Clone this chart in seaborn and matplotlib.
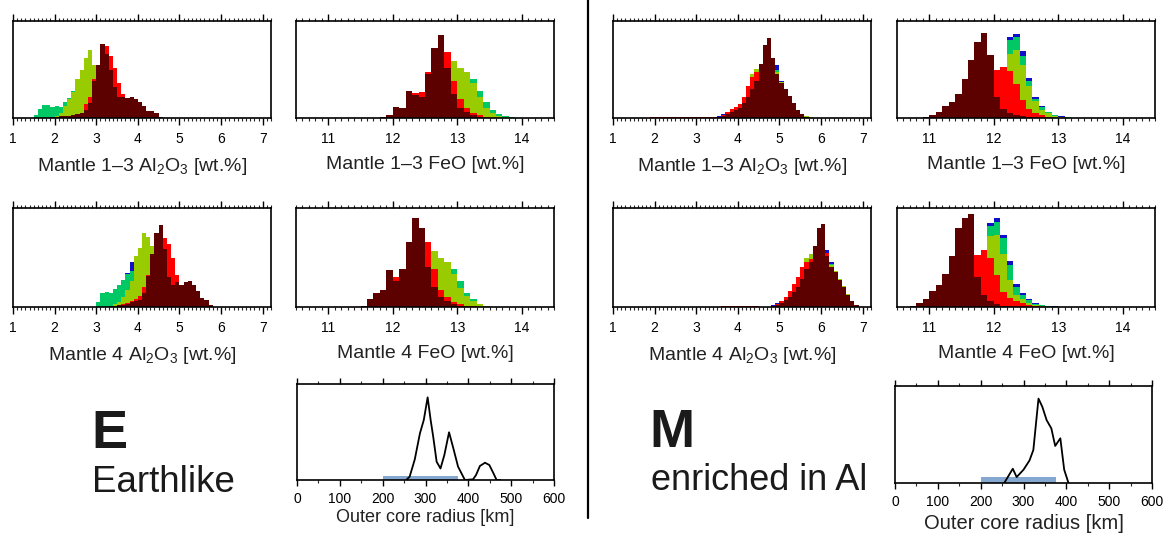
import numpy as np
import pandas as pd
import matplotlib
matplotlib.use("Agg")
import matplotlib.pyplot as plt
import seaborn as sns
from matplotlib.ticker import MultipleLocator
from matplotlib.lines import Line2D

sns.set_theme(style="white")
plt.rcParams['font.family'] = ['Liberation Sans', 'DejaVu Sans']
plt.rcParams['mathtext.fontset'] = 'custom'
plt.rcParams['mathtext.rm'] = 'Liberation Sans'
plt.rcParams['mathtext.it'] = 'Liberation Sans:italic'
plt.rcParams['mathtext.bf'] = 'Liberation Sans:bold'

# ---------------- data ----------------
BIN_W = 0.1
SERIES_ORDER = ["blue", "green", "yellowgreen", "red", "maroon"]
SERIES_COLORS = {"blue": "#1010c8", "green": "#00c864", "yellowgreen": "#99cc00",
                 "red": "#ff0000", "maroon": "#5c0000"}

AL_TICKS = [1, 2, 3, 4, 5, 6, 7]
FEO_TICKS = [11, 12, 13, 14]
CORE_TICKS = [0, 100, 200, 300, 400, 500, 600]

# E: Mantle 1-3 Al2O3 (bin centres start at 1.45)
E13_AL_START = 1.45
E13_AL_GREEN = [0, 0.03, 0.09, 0.13, 0.13, 0.11, 0.12, 0.11, 0.16, 0.21, 0.28, 0.35, 0.45, 0.55, 0.62, 0.45, 0.35,
                0.30, 0.25, 0.20, 0.15, 0.10, 0.08, 0.06, 0.05, 0.04, 0.03, 0.02, 0.01, 0, 0, 0, 0]
E13_AL_YG = [0, 0, 0, 0, 0, 0.01, 0.02, 0.05, 0.12, 0.20, 0.27, 0.40, 0.50, 0.62, 0.70, 0.55, 0.40, 0.35, 0.30,
             0.25, 0.20, 0.15, 0.10, 0.08, 0.06, 0.05, 0.04, 0.03, 0.02, 0.01, 0, 0, 0]
E13_AL_RED = [0, 0, 0, 0, 0, 0, 0.01, 0.015, 0.02, 0.02, 0.025, 0.035, 0.05, 0.14, 0.22, 0.40, 0.55, 0.74, 0.74,
              0.64, 0.52, 0.36, 0.25, 0.20, 0.18, 0.16, 0.13, 0.10, 0.06, 0.05, 0.04, 0.01, 0]
E13_AL_MAROON = [0, 0, 0, 0, 0.005, 0.01, 0.015, 0.02, 0.02, 0.025, 0.03, 0.04, 0.05, 0.08, 0.15, 0.38, 0.55,
                 0.76, 0.66, 0.50, 0.32, 0.22, 0.22, 0.21, 0.22, 0.20, 0.16, 0.12, 0.07, 0.07, 0.05, 0.01, 0]

# E: Mantle 4 Al2O3 (start 2.95)
E4_AL_START = 2.95
E4_AL_BLUE = [0.0, 0.05, 0.14, 0.15, 0.14, 0.18, 0.22, 0.27, 0.34, 0.45, 0.50, 0.50, 0.55, 0.50, 0.45, 0.40, 0.35,
              0.30, 0.25, 0.20, 0.15, 0.12, 0.10, 0.08, 0.06, 0.04, 0.03, 0.02, 0.01]
E4_AL_GREEN = [0.0, 0.05, 0.14, 0.15, 0.14, 0.18, 0.22, 0.27, 0.33, 0.36, 0.42, 0.48, 0.50, 0.45, 0.40, 0.35, 0.30,
               0.25, 0.20, 0.15, 0.12, 0.10, 0.08, 0.06, 0.05, 0.04, 0.03, 0.02, 0.01]
E4_AL_YG = [0, 0, 0, 0, 0.01, 0.03, 0.05, 0.10, 0.17, 0.26, 0.52, 0.60, 0.75, 0.71, 0.62, 0.55, 0.50, 0.42, 0.35,
            0.28, 0.22, 0.18, 0.14, 0.11, 0.08, 0.06, 0.04, 0.03, 0.01]
E4_AL_RED = [0, 0, 0, 0, 0.005, 0.01, 0.02, 0.03, 0.04, 0.06, 0.08, 0.11, 0.20, 0.32, 0.48, 0.62, 0.72, 0.70, 0.64,
             0.50, 0.32, 0.21, 0.23, 0.24, 0.20, 0.15, 0.08, 0.06, 0.02]
E4_AL_MAROON = [0, 0, 0, 0, 0.01, 0.015, 0.02, 0.025, 0.03, 0.05, 0.06, 0.07, 0.14, 0.31, 0.54, 0.75, 0.83, 0.59,
                0.30, 0.22, 0.25, 0.22, 0.25, 0.26, 0.22, 0.16, 0.09, 0.07, 0.02]

# E: Mantle 1-3 FeO (start 11.75)
E13_FE_START = 11.75
E13_FE_GREEN = [0.005, 0.01, 0.03, 0.10, 0.10, 0.25, 0.25, 0.26, 0.45, 0.70, 0.78, 0.62, 0.58, 0.52, 0.47, 0.40,
                0.28, 0.16, 0.08, 0.04, 0.02, 0.01, 0.005]
E13_FE_YG = [0.005, 0.01, 0.03, 0.10, 0.10, 0.25, 0.25, 0.26, 0.45, 0.70, 0.80, 0.62, 0.59, 0.52, 0.47, 0.36, 0.22,
             0.10, 0.05, 0.025, 0.01, 0.005, 0]
E13_FE_RED = [0.005, 0.01, 0.03, 0.10, 0.10, 0.26, 0.26, 0.27, 0.47, 0.72, 0.84, 0.68, 0.38, 0.20, 0.10, 0.05, 0.03,
              0.01, 0.005, 0, 0, 0, 0]
E13_FE_MAROON = [0.005, 0.01, 0.03, 0.11, 0.10, 0.28, 0.24, 0.22, 0.45, 0.72, 0.86, 0.52, 0.25, 0.10, 0.06, 0.03,
                 0.015, 0.005, 0, 0, 0, 0, 0]

# E: Mantle 4 FeO (start 11.55)
E4_FE_START = 11.55
E4_FE_GREEN = [0.01, 0.08, 0.14, 0.17, 0.35, 0.28, 0.37, 0.62, 0.84, 0.78, 0.64, 0.57, 0.50, 0.45, 0.38, 0.26, 0.14,
               0.08, 0.035, 0.015, 0.005]
E4_FE_YG = [0.01, 0.08, 0.14, 0.17, 0.35, 0.28, 0.37, 0.62, 0.84, 0.78, 0.64, 0.57, 0.50, 0.45, 0.33, 0.19, 0.11,
            0.06, 0.03, 0.01, 0]
E4_FE_RED = [0.01, 0.08, 0.14, 0.17, 0.36, 0.30, 0.38, 0.64, 0.86, 0.80, 0.66, 0.38, 0.17, 0.10, 0.05, 0.03, 0.015,
             0.01, 0.005, 0, 0]
E4_FE_MAROON = [0.01, 0.08, 0.14, 0.17, 0.37, 0.26, 0.38, 0.66, 0.90, 0.80, 0.40, 0.20, 0.10, 0.06, 0.03, 0.015,
                0.01, 0.005, 0, 0, 0]

# M: Mantle 1-3 Al2O3 (start 1.95)
M13_AL_START = 1.95
M13_AL_BLUE = [0] * 15 + [0.005, 0.02, 0.04, 0.06, 0.08, 0.10, 0.13, 0.20, 0.30, 0.42, 0.48, 0.50, 0.55, 0.60, 0.60,
                          0.55, 0.38, 0.30, 0.22, 0.14, 0.07, 0.03, 0.01, 0.005, 0]
M13_AL_GREEN = [0] * 15 + [0.005, 0.01, 0.02, 0.05, 0.08, 0.10, 0.13, 0.20, 0.30, 0.43, 0.49, 0.50, 0.52, 0.56,
                           0.56, 0.50, 0.37, 0.30, 0.23, 0.15, 0.08, 0.04, 0.02, 0.01, 0.005]
M13_AL_YG = [0] * 15 + [0.005, 0.01, 0.02, 0.05, 0.08, 0.10, 0.13, 0.20, 0.30, 0.45, 0.51, 0.50, 0.52, 0.55, 0.55,
                        0.47, 0.37, 0.30, 0.23, 0.15, 0.08, 0.04, 0.02, 0.01, 0.005]
M13_AL_RED = [0.01] * 15 + [0.01, 0.015, 0.03, 0.06, 0.09, 0.11, 0.14, 0.22, 0.33, 0.42, 0.47, 0.50, 0.55, 0.60,
                            0.55, 0.45, 0.36, 0.29, 0.22, 0.14, 0.07, 0.03, 0.01, 0.005, 0]
M13_AL_MAROON = [0] * 15 + [0.005, 0.01, 0.02, 0.04, 0.06, 0.08, 0.10, 0.15, 0.22, 0.30, 0.38, 0.56, 0.75, 0.82,
                            0.62, 0.45, 0.36, 0.30, 0.23, 0.15, 0.08, 0.04, 0.015, 0.005, 0]

# M: Mantle 4 Al2O3 (start 3.65)
M4_AL_START = 3.65
M4_AL_BLUE = [0] * 12 + [0.02, 0.04, 0.06, 0.09, 0.14, 0.20, 0.26, 0.33, 0.42, 0.50, 0.52, 0.55, 0.58, 0.58, 0.45,
                         0.35, 0.27, 0.20, 0.12, 0.06, 0.02, 0.005]
M4_AL_GREEN = [0] * 12 + [0.01, 0.03, 0.05, 0.08, 0.14, 0.20, 0.26, 0.35, 0.48, 0.53, 0.52, 0.55, 0.56, 0.52, 0.43,
                          0.35, 0.27, 0.20, 0.12, 0.06, 0.02, 0.005]
M4_AL_YG = [0] * 12 + [0.01, 0.03, 0.05, 0.08, 0.14, 0.20, 0.26, 0.36, 0.50, 0.54, 0.52, 0.55, 0.55, 0.50, 0.42,
                       0.36, 0.28, 0.21, 0.13, 0.06, 0.02, 0.005]
M4_AL_RED = [0.01, 0.01, 0.012, 0.01, 0.012, 0.01, 0.012, 0.012, 0.01, 0.004, 0.003, 0.003, 0.01, 0.03, 0.06, 0.10,
             0.16, 0.23, 0.30, 0.40, 0.45, 0.48, 0.55, 0.70, 0.75, 0.55, 0.40, 0.34, 0.27, 0.20, 0.12, 0.06, 0.02,
             0.005]
M4_AL_MAROON = [0] * 12 + [0.005, 0.02, 0.04, 0.07, 0.10, 0.15, 0.20, 0.28, 0.38, 0.45, 0.62, 0.80, 0.84, 0.52,
                           0.40, 0.35, 0.27, 0.20, 0.12, 0.06, 0.02, 0.005]

# M: Mantle 1-3 FeO (start 10.95)
M13_FE_START = 10.95
M13_FE_BLUE = [0, 0.005, 0.01, 0.02, 0.03, 0.05, 0.08, 0.12, 0.18, 0.25, 0.32, 0.44, 0.52, 0.83, 0.87, 0.69, 0.41,
               0.22, 0.12, 0.065, 0.033, 0.018, 0.01, 0.005]
M13_FE_GREEN = [0, 0.005, 0.01, 0.02, 0.03, 0.05, 0.08, 0.12, 0.18, 0.25, 0.32, 0.43, 0.50, 0.80, 0.84, 0.64, 0.38,
                0.20, 0.11, 0.06, 0.03, 0.015, 0.008, 0.004]
M13_FE_YG = [0, 0.005, 0.01, 0.02, 0.03, 0.05, 0.08, 0.12, 0.18, 0.25, 0.32, 0.42, 0.50, 0.66, 0.70, 0.55, 0.33,
             0.18, 0.08, 0.05, 0.02, 0.01, 0, 0]
M13_FE_RED = [0.005, 0.01, 0.02, 0.03, 0.05, 0.08, 0.12, 0.18, 0.28, 0.38, 0.44, 0.49, 0.53, 0.48, 0.35, 0.19,
              0.09, 0.05, 0.03, 0.01, 0.005, 0, 0, 0]
M13_FE_MAROON = [0.01, 0.03, 0.06, 0.12, 0.17, 0.25, 0.40, 0.60, 0.78, 0.88, 0.65, 0.22, 0.09, 0.05, 0.035, 0.02,
                 0.01, 0.005, 0, 0, 0, 0, 0, 0]

# M: Mantle 4 FeO (start 10.75)
M4_FE_START = 10.75
M4_FE_BLUE = [0, 0.005, 0.01, 0.02, 0.03, 0.05, 0.08, 0.12, 0.18, 0.25, 0.35, 0.57, 0.85, 0.90, 0.73, 0.46, 0.23,
              0.14, 0.08, 0.04, 0.022, 0.012, 0.006]
M4_FE_GREEN = [0, 0.005, 0.01, 0.02, 0.03, 0.05, 0.08, 0.12, 0.18, 0.25, 0.35, 0.55, 0.82, 0.86, 0.70, 0.42, 0.20,
               0.12, 0.07, 0.035, 0.02, 0.01, 0.005]
M4_FE_YG = [0, 0.005, 0.01, 0.02, 0.03, 0.05, 0.08, 0.12, 0.18, 0.25, 0.35, 0.50, 0.72, 0.73, 0.54, 0.27, 0.12,
            0.08, 0.04, 0.02, 0.01, 0.005, 0]
M4_FE_RED = [0.005, 0.01, 0.02, 0.04, 0.07, 0.10, 0.15, 0.22, 0.30, 0.40, 0.53, 0.58, 0.50, 0.32, 0.15, 0.09, 0.06,
             0.04, 0.02, 0.01, 0.005, 0, 0]
M4_FE_MAROON = [0.01, 0.04, 0.08, 0.16, 0.22, 0.33, 0.52, 0.80, 0.90, 0.94, 0.30, 0.12, 0.06, 0.03, 0.015, 0.008,
                0.004, 0, 0, 0, 0, 0, 0]

# Outer core radius distributions
E_CORE_R = [255, 263, 275, 287, 296, 305, 312, 318, 326, 335, 344, 355, 365, 376, 392, 411, 418, 427, 439, 449, 458,
            466, 475]
E_CORE_P = [0, 0.035, 0.215, 0.486, 0.625, 0.861, 0.625, 0.451, 0.19, 0.12, 0.26, 0.497, 0.33, 0.139, 0, 0.007,
            0.052, 0.146, 0.18, 0.156, 0.076, 0, 0]
M_CORE_R = [255, 275, 284, 300, 314, 323, 335, 344, 354, 365, 374, 386, 395, 405]
M_CORE_P = [0, 0.147, 0.061, 0.137, 0.232, 0.341, 0.870, 0.785, 0.648, 0.563, 0.382, 0.461, 0.137, 0]
CORE_RANGE = [200, 375]

# ---------------- layout ----------------
W, H = 1164, 536
fig = plt.figure(figsize=(W / 100, H / 100), dpi=100)


def add_ax(l, t, r, b):
    return fig.add_axes([l / W, 1 - b / H, (r - l) / W, (b - t) / H])


def style_frame(ax, lw=1.2):
    for s in ax.spines.values():
        s.set_visible(True)
        s.set_color("black")
        s.set_linewidth(lw)
    ax.tick_params(axis='y', which='both', left=False, right=False, labelleft=False)
    ax.set_ylabel("")


def hist_panel(ax, start, series, xlim, ticks, label):
    n = len(next(iter(series.values())))
    centers = start + BIN_W * np.arange(n)
    lo, hi = centers[0] - BIN_W / 2, centers[-1] + BIN_W / 2
    for name in SERIES_ORDER:
        if name in series:
            df = pd.DataFrame({"value": centers, "count": np.asarray(series[name], dtype=float)})
            sns.histplot(data=df, x="value", weights="count", binwidth=BIN_W, binrange=(lo, hi),
                         element="step", fill=True, color=SERIES_COLORS[name], alpha=1, linewidth=0, ax=ax)
    ax.set_xlim(*xlim)
    ax.set_ylim(0, 1)
    ax.set_xticks(ticks)
    ax.set_xticklabels([str(t) for t in ticks])
    ax.xaxis.set_minor_locator(MultipleLocator(0.1))
    ax.tick_params(axis='x', which='major', direction='out', length=5, width=1, top=True, bottom=True,
                   labelsize=10, pad=5, colors='black')
    ax.tick_params(axis='x', which='minor', direction='out', length=2.5, width=0.8, top=True, bottom=True)
    style_frame(ax)
    ax.set_xlabel(label, fontsize=14, labelpad=7, color='#222222')


AL13 = "Mantle 1\u20133 Al$_2$O$_3$ [wt.%]"
AL4 = "Mantle 4 Al$_2$O$_3$ [wt.%]"
FE13 = "Mantle 1\u20133 FeO [wt.%]"
FE4 = "Mantle 4 FeO [wt.%]"
AL_LIM = (1, 7.2)
FE_LIM = (10.5, 14.5)

ROW1 = (21, 118)
ROW2 = (208, 307)

hist_panel(add_ax(13, ROW1[0], 271, ROW1[1]), E13_AL_START,
           {"green": E13_AL_GREEN, "yellowgreen": E13_AL_YG, "red": E13_AL_RED, "maroon": E13_AL_MAROON},
           AL_LIM, AL_TICKS, AL13)
hist_panel(add_ax(296, ROW1[0], 554, ROW1[1]), E13_FE_START,
           {"green": E13_FE_GREEN, "yellowgreen": E13_FE_YG, "red": E13_FE_RED, "maroon": E13_FE_MAROON},
           FE_LIM, FEO_TICKS, FE13)
hist_panel(add_ax(13, ROW2[0], 271, ROW2[1]), E4_AL_START,
           {"blue": E4_AL_BLUE, "green": E4_AL_GREEN, "yellowgreen": E4_AL_YG, "red": E4_AL_RED,
            "maroon": E4_AL_MAROON}, AL_LIM, AL_TICKS, AL4)
hist_panel(add_ax(296, ROW2[0], 554, ROW2[1]), E4_FE_START,
           {"green": E4_FE_GREEN, "yellowgreen": E4_FE_YG, "red": E4_FE_RED, "maroon": E4_FE_MAROON},
           FE_LIM, FEO_TICKS, FE4)

hist_panel(add_ax(613, ROW1[0], 871, ROW1[1]), M13_AL_START,
           {"blue": M13_AL_BLUE, "green": M13_AL_GREEN, "yellowgreen": M13_AL_YG, "red": M13_AL_RED,
            "maroon": M13_AL_MAROON}, AL_LIM, AL_TICKS, AL13)
hist_panel(add_ax(897, ROW1[0], 1155, ROW1[1]), M13_FE_START,
           {"blue": M13_FE_BLUE, "green": M13_FE_GREEN, "yellowgreen": M13_FE_YG, "red": M13_FE_RED,
            "maroon": M13_FE_MAROON}, FE_LIM, FEO_TICKS, FE13)
hist_panel(add_ax(613, ROW2[0], 871, ROW2[1]), M4_AL_START,
           {"blue": M4_AL_BLUE, "green": M4_AL_GREEN, "yellowgreen": M4_AL_YG, "red": M4_AL_RED,
            "maroon": M4_AL_MAROON}, AL_LIM, AL_TICKS, AL4)
hist_panel(add_ax(897, ROW2[0], 1155, ROW2[1]), M4_FE_START,
           {"blue": M4_FE_BLUE, "green": M4_FE_GREEN, "yellowgreen": M4_FE_YG, "red": M4_FE_RED,
            "maroon": M4_FE_MAROON}, FE_LIM, FEO_TICKS, FE4)


def core_panel(ax, r, p, label_size, label_pad, bar_h):
    ax.fill_between(CORE_RANGE, 0, bar_h, color="#84a8d0", linewidth=0, zorder=1)
    sns.lineplot(x=r, y=p, sort=False, color="black", linewidth=1.3, ax=ax, zorder=3)
    ax.set_xlim(0, 600)
    ax.set_ylim(0, 1)
    ax.set_xticks(CORE_TICKS)
    ax.set_xticklabels([str(t) for t in CORE_TICKS])
    ax.xaxis.set_minor_locator(MultipleLocator(50))
    ax.tick_params(axis='x', which='major', direction='out', length=4.5, width=1, top=True, bottom=True,
                   labelsize=10, pad=4, colors='black')
    ax.tick_params(axis='x', which='minor', direction='out', length=2.5, width=0.8, top=True, bottom=True)
    style_frame(ax, 1.2)
    ax.set_xlabel("Outer core radius [km]", fontsize=label_size, labelpad=label_pad, color='#222222')


core_panel(add_ax(297, 384, 554, 480), E_CORE_R, E_CORE_P, 13, 2, 0.045)
core_panel(add_ax(895, 386, 1152, 483), M_CORE_R, M_CORE_P, 14.5, 4, 0.058)

# big letters and descriptions
fig.text(91 / W, 1 - 448 / H, "E", fontsize=39, fontweight="bold", color="#1a1a1a", va="baseline")
fig.text(92 / W, 1 - 492 / H, "Earthlike", fontsize=26.5, color="#1a1a1a", va="baseline")
fig.text(649 / W, 1 - 447 / H, "M", fontsize=39, fontweight="bold", color="#1a1a1a", va="baseline")
fig.text(651 / W, 1 - 490 / H, "enriched in Al", fontsize=26, color="#1a1a1a", va="baseline")

# vertical divider
fig.add_artist(Line2D([588 / W, 588 / W], [1.0, 1 - 518 / H], color="black", linewidth=1.6))

fig.savefig("out.png", dpi=100)
